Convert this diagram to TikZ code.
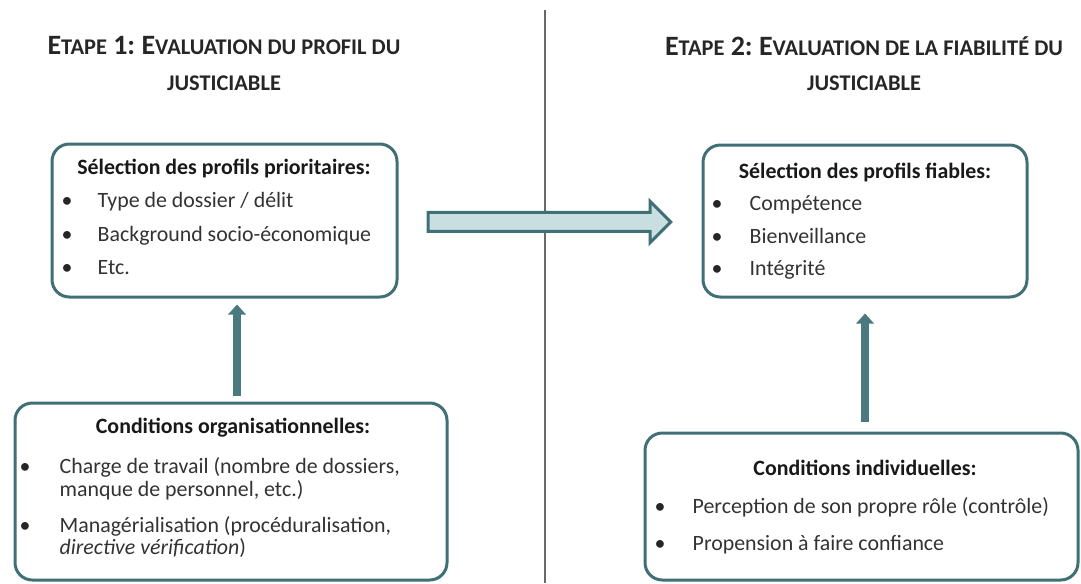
\documentclass[tikz,border=0pt]{standalone}
\usepackage{fontspec}
\setmainfont{Carlito}
\frenchspacing
\definecolor{Sarcelle}{RGB}{64,112,118}
\definecolor{SarcelleClair}{RGB}{200,222,225}
\definecolor{Fleche}{RGB}{74,122,128}
\definecolor{Trait}{RGB}{105,105,105}
\usetikzlibrary{shapes.arrows, arrows.meta}

\newcommand{\corps}{\fontsize{16.4}{20}\selectfont}
\newcommand{\pc}[1]{{\fontsize{16.8}{20}\selectfont #1}}  % petites capitales

\begin{document}
\begin{tikzpicture}[x=0.75pt, y=-0.75pt,
    boite/.style={draw=Sarcelle, line width=2.25pt, rounded corners=13pt, fill=white, inner sep=0pt},
    titre/.style={anchor=base, font=\fontsize{21}{25}\selectfont\bfseries, text=black!85},
    entete/.style={anchor=base, font=\corps\bfseries, text=black!90},
    puce/.style={anchor=base, font=\corps, text=black!85},
    ligne/.style={anchor=base west, font=\corps, text=black!80},
    montee/.style={draw=Fleche, line width=6pt, -{Triangle[width=13pt, length=7.5pt]}},
    transfert/.style={single arrow, draw=Sarcelle, fill=SarcelleClair, line width=2.25pt,
        inner xsep=0pt, inner ysep=6pt, single arrow head extend=8.25pt, minimum height=182pt}
  ]

    \useasboundingbox (0,0) rectangle (1081,583);

    % separation des deux etapes
    \draw[Trait, line width=1.1pt] (545,10) -- (545,583);

    % titres
    \node[titre] (etape1) at (224,54) {E\pc{TAPE} 1: E\pc{VALUATION DU PROFIL DU}};
    \node[titre] (etape1fin) at (224,90) {\pc{JUSTICIABLE}};
    \node[titre] (etape2) at (864,55) {E\pc{TAPE} 2: E\pc{VALUATION DE LA FIABILIT\'E DU}};
    \node[titre] (etape2fin) at (864,90) {\pc{JUSTICIABLE}};

    % boites
    \node[boite, minimum width=258.75pt, minimum height=114.75pt] (prioritaires) at (224.5,220.5) {};
    \node[boite, minimum width=243pt, minimum height=114pt] (fiables) at (865,221) {};
    \node[boite, minimum width=324pt, minimum height=132.75pt] (organisation) at (231,491.5) {};
    \node[boite, minimum width=324.75pt, minimum height=110.25pt] (individuel) at (861.5,506.5) {};

    % profils prioritaires
    \node[entete] (tprior) at (224,174) {Sélection des profils prioritaires:};
    \node[puce] (bprior1) at (67,207) {•};
    \node[ligne] (lprior1) at (93,207) {Type de dossier / délit};
    \node[puce] (bprior2) at (67,241) {•};
    \node[ligne] (lprior2) at (93,241) {Background socio-économique};
    \node[puce] (bprior3) at (67,274) {•};
    \node[ligne] (lprior3) at (93,274) {Etc.};

    % profils fiables
    \node[entete] (tfiab) at (865,178) {Sélection des profils fiables:};
    \node[puce] (bfiab1) at (717,210) {•};
    \node[ligne] (lfiab1) at (745,210) {Compétence};
    \node[puce] (bfiab2) at (717,243) {•};
    \node[ligne] (lfiab2) at (745,243) {Bienveillance};
    \node[puce] (bfiab3) at (717,275) {•};
    \node[ligne] (lfiab3) at (745,275) {Intégrité};

    % conditions organisationnelles
    \node[entete] (torga) at (233,433) {Conditions organisationnelles:};
    \node[puce] (borga1) at (25,473) {•};
    \node[ligne] (lorga1) at (55,473) {Charge de travail (nombre de dossiers,};
    \node[ligne] (lorga1b) at (55,496) {manque de personnel, etc.)};
    \node[puce] (borga2) at (25,532) {•};
    \node[ligne] (lorga2) at (55,532) {Managérialisation (procéduralisation,};
    \node[ligne] (lorga2b) at (55,554) {\textit{directive vérification})};

    % conditions individuelles
    \node[entete] (tindiv) at (865,475) {Conditions individuelles:};
    \node[puce] (bindiv1) at (660,513) {•};
    \node[ligne] (lindiv1) at (688,513) {Perception de son propre rôle (contrôle)};
    \node[puce] (bindiv2) at (660,550) {•};
    \node[ligne] (lindiv2) at (688,550) {Propension à faire confiance};

    % fleches
    \node[transfert, anchor=west] (passage) at ([xshift=21pt, yshift=-1.1pt]prioritaires.east) {};
    \draw[montee, shorten <=4.5pt, shorten >=4.5pt]
        ([xshift=4.5pt]organisation.north) -- ([xshift=4.5pt]organisation.north |- prioritaires.south);
    \draw[montee, shorten <=7.5pt, shorten >=11.25pt]
        (individuel.north -| fiables.south) -- (fiables.south);

\end{tikzpicture}
\end{document}
